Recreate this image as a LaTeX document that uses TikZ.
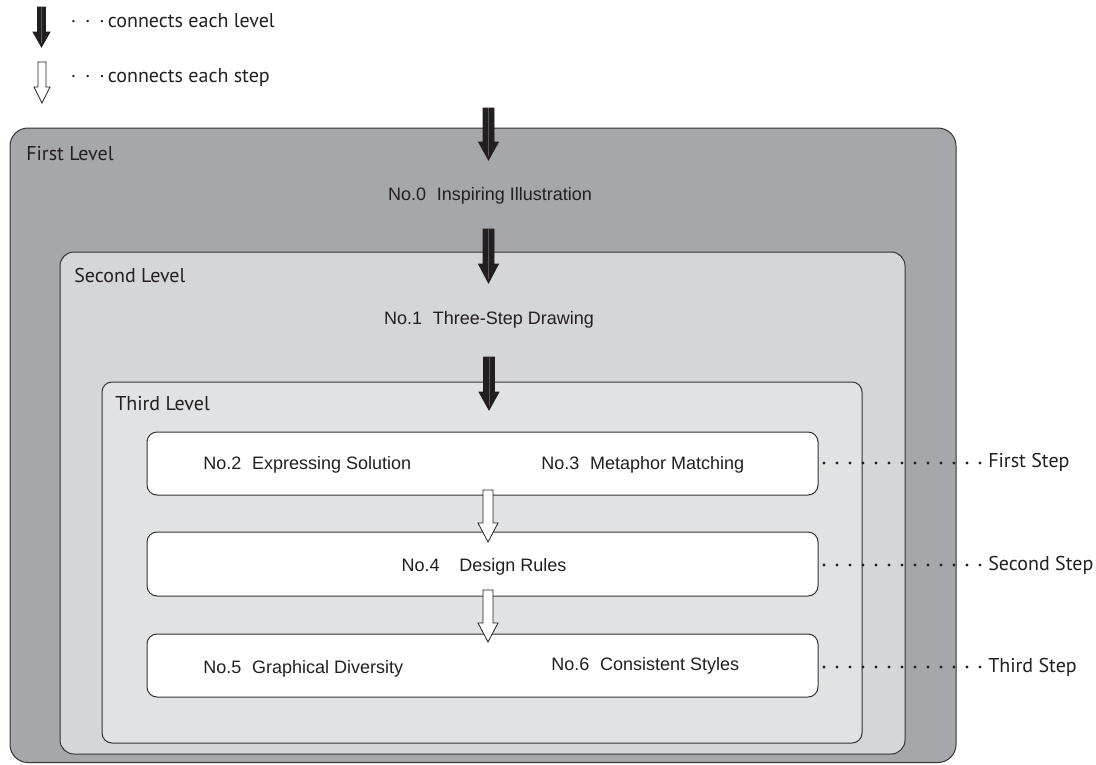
\documentclass[tikz,border=0pt]{standalone}
\usepackage{fontspec}
\usepackage{tikz}
\usetikzlibrary{calc}
\newfontfamily\labelfont{PT Sans}
\newfontfamily\itemfont{Liberation Sans}
\definecolor{lvOne}{HTML}{A6A7AA}
\definecolor{lvTwo}{HTML}{D5D6D8}
\definecolor{lvThree}{HTML}{E1E2E3}
\definecolor{edgeInk}{HTML}{333333}
\definecolor{arrowInk}{HTML}{231F20}
\newcommand{\BlockArrow}[6]{
	\def\lfrom{#1}
	\def\lto{#2}
	\def\lshaft{#3}
	\def\lhead{#4}
	\def\llen{#5}
	\def\lfill{#6}
	\filldraw[draw=arrowInk, fill=\lfill, line width=0.6pt, line join=miter] ($(\lfrom)+(-\lshaft,0)$) -- ($(\lto)+(-\lshaft,-\llen)$) -- ($(\lto)+(-\lhead,-\llen)$) -- (\lto) -- ($(\lto)+(\lhead,-\llen)$) -- ($(\lto)+(\lshaft,-\llen)$) -- ($(\lfrom)+(\lshaft,0)$) -- cycle;
}
\newcommand{\LevelArrow}[5]{
	\BlockArrow{#1}{#2}{#3}{#4}{#5}{arrowInk}
	\draw[arrowInk!75!white, line width=0.2pt] (#1) -- ($(#2)+(0,-4)$);
}
\tikzset{
	levelbox/.style={draw=edgeInk, line width=0.75pt},
	stepbox/.style={draw=edgeInk, fill=white, line width=0.75pt, rounded corners=7.5pt},
	levelname/.style={font=\labelfont\fontsize{15}{17}\selectfont, text=arrowInk, inner sep=0pt, anchor=base west},
	itemtext/.style={font=\itemfont\fontsize{13.5}{16}\selectfont, text=arrowInk, inner sep=0pt},
	stepname/.style={font=\labelfont\fontsize{15}{17}\selectfont, text=arrowInk, inner sep=0pt, anchor=base west},
	stepdots/.style={arrowInk, line width=2.5pt, line cap=round, dash pattern=on 0pt off 9.75pt}
}

\begin{document}
\begin{tikzpicture}[x=0.75pt, y=-0.75pt]
	\useasboundingbox (0,0) rectangle (1096,764);

	% legend
	\coordinate (keyLevelTop) at (41.5,7);
	\coordinate (keyLevelTip) at (41.5,47);
	\coordinate (keyStepTop) at (42,62);
	\coordinate (keyStepTip) at (42,103);
	\LevelArrow{keyLevelTop}{keyLevelTip}{4}{8.5}{15}
	\BlockArrow{keyStepTop}{keyStepTip}{4}{8}{16}{white}
	\node[levelname] (keyLevel) at (70.5,27) {·\hspace{.45em}·\hspace{.45em}·\hspace{.15em}connects each level};
	\node[levelname] (keyStep) at (70.5,82) {·\hspace{.45em}·\hspace{.45em}·\hspace{.15em}connects each step};

	% nested levels
	\draw[levelbox, fill=lvOne, rounded corners=13.5pt] (10,128) coordinate (lvOneNW) rectangle (956,762.5) coordinate (lvOneSE);
	\draw[levelbox, fill=lvTwo, rounded corners=10.5pt] (60,252) coordinate (lvTwoNW) rectangle (905,754) coordinate (lvTwoSE);
	\draw[levelbox, fill=lvThree, rounded corners=7.5pt] (102,382) coordinate (lvThreeNW) rectangle (862,743) coordinate (lvThreeSE);

	% steps
	\draw[stepbox] (147,432) rectangle (818,495);
	\draw[stepbox] (147,532) rectangle (818,596);
	\draw[stepbox] (147,634) rectangle (818,697);
	\coordinate (stepOneE) at (818,463);
	\coordinate (stepTwoE) at (818,565);
	\coordinate (stepThreeE) at (818,667);

	% arrows between levels and steps
	\coordinate (a0top) at (488.5,108);
	\coordinate (a0tip) at (488.5,160);
	\coordinate (a1top) at (488.5,229);
	\coordinate (a1tip) at (488.5,283);
	\coordinate (a2top) at (489,357);
	\coordinate (a2tip) at (489,410);
	\LevelArrow{a0top}{a0tip}{5.5}{10}{18}
	\LevelArrow{a1top}{a1tip}{5.5}{10}{19}
	\LevelArrow{a2top}{a2tip}{5.5}{10}{18}
	\coordinate (s0top) at (488,490);
	\coordinate (s0tip) at (488,542);
	\coordinate (s1top) at (488,590);
	\coordinate (s1tip) at (488,642);
	\BlockArrow{s0top}{s0tip}{5}{10}{19}{white}
	\BlockArrow{s1top}{s1tip}{5}{10}{19}{white}

	% level names
	\node[levelname] (firstLevel) at (26,160) {First Level};
	\node[levelname] (secondLevel) at (74,282) {Second Level};
	\node[levelname] (thirdLevel) at (115,410) {Third Level};

	% items
	\node[itemtext, anchor=base] (no0) at (490,200) {No.0\hspace{.6em}Inspiring Illustration};
	\node[itemtext, anchor=base] (no1) at (489,324) {No.1\hspace{.6em}Three-Step Drawing};
	\node[itemtext, anchor=base west] (no2) at (203,469) {No.2\hspace{.6em}Expressing Solution};
	\node[itemtext, anchor=base west] (no3) at (541,469) {No.3\hspace{.6em}Metaphor Matching};
	\node[itemtext, anchor=base] (no4) at (484,571) {No.4\hspace{1.1em}Design Rules};
	\node[itemtext, anchor=base west] (no5) at (203,673) {No.5\hspace{.6em}Graphical Diversity};
	\node[itemtext, anchor=base west] (no6) at (551,670) {No.6\hspace{.6em}Consistent Styles};

	% step names
	\node[stepname] (firstStep) at (988,467) {First Step};
	\node[stepname] (secondStep) at (988,570) {Second Step};
	\node[stepname] (thirdStep) at (988,672) {Third Step};
	\draw[stepdots] ($(stepOneE)+(6,0)$) -- (stepOneE -| firstStep.west);
	\draw[stepdots] ($(stepTwoE)+(6,0)$) -- (stepTwoE -| secondStep.west);
	\draw[stepdots] ($(stepThreeE)+(6,0)$) -- (stepThreeE -| thirdStep.west);
\end{tikzpicture}
\end{document}
